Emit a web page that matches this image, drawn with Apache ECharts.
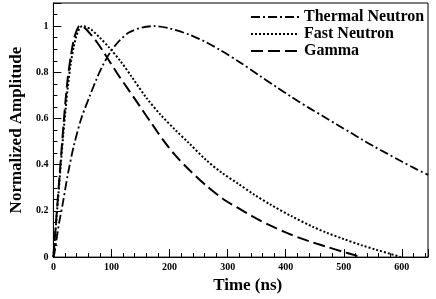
<!DOCTYPE html>
<html>
<head>
<meta charset="utf-8">
<script src="https://cdn.jsdelivr.net/npm/echarts@6/dist/echarts.min.js"></script>
<style>html,body{margin:0;padding:0;background:#fff;}#c{width:436px;height:299px;}</style>
</head>
<body>
<div id="c"></div>
<script>
// Thermal neutron (dash-dot)
const thermalT = [0, 2, 5, 10, 16, 25, 35, 48, 63, 75, 85, 100, 115, 130, 150, 174, 200, 235, 263, 288, 320, 357, 385, 410, 440, 463, 488, 513, 532, 552, 574, 599, 624, 645];
const thermalV = [0, 0.02, 0.07, 0.15, 0.23, 0.36, 0.48, 0.6, 0.7, 0.775, 0.83, 0.895, 0.94, 0.972, 0.992, 1.0, 0.99, 0.962, 0.93, 0.895, 0.845, 0.782, 0.735, 0.693, 0.646, 0.612, 0.574, 0.537, 0.508, 0.479, 0.449, 0.415, 0.382, 0.356];
// Fast neutron (dotted)
const fastT = [0, 3, 6, 9, 13, 17, 21, 25, 30, 35, 40, 45, 50, 55, 65, 80, 96, 115, 135, 160, 185, 210, 232, 263, 290, 318, 346, 374, 410, 446, 470, 500, 530, 557, 580, 598];
const fastV = [0, 0.09, 0.19, 0.28, 0.41, 0.53, 0.64, 0.74, 0.84, 0.91, 0.96, 0.99, 1.0, 0.998, 0.985, 0.95, 0.907, 0.85, 0.78, 0.69, 0.615, 0.55, 0.497, 0.42, 0.365, 0.318, 0.27, 0.227, 0.177, 0.132, 0.106, 0.078, 0.052, 0.031, 0.014, 0];
// Gamma (long dash)
const gammaT = [0, 3, 6, 9, 13, 17, 21, 25, 30, 35, 40, 45, 50, 55, 65, 75, 85, 96, 110, 125, 147, 170, 191, 210, 235, 263, 296, 320, 346, 372, 400, 425, 446, 470, 500, 515, 530];
const gammaV = [0, 0.1, 0.2, 0.3, 0.43, 0.56, 0.68, 0.78, 0.87, 0.94, 0.98, 1.0, 0.998, 0.99, 0.962, 0.93, 0.893, 0.85, 0.795, 0.74, 0.66, 0.575, 0.5, 0.44, 0.375, 0.31, 0.245, 0.21, 0.172, 0.138, 0.107, 0.082, 0.064, 0.045, 0.022, 0.011, 0];
const seriesNames = ['Thermal Neutron', 'Fast Neutron', 'Gamma'];
const xTitle = 'Time (ns)';
const yTitle = 'Normalized Amplitude';

function pairs(t, v) { return t.map((x, i) => [x, v[i]]); }

const font = 'Liberation Serif';
const chart = echarts.init(document.getElementById('c'), null, {renderer: 'canvas'});
chart.setOption({
  animation: false,
  backgroundColor: '#fff',
  grid: {left: 42, right: 8, top: 3, bottom: 31, show: true, borderColor: '#000', borderWidth: 1, backgroundColor: 'transparent'},
  legend: {
    orient: 'vertical', left: 245, top: 4, itemGap: 1, itemWidth: 48, itemHeight: 12,
    itemStyle: {color: 'rgba(0,0,0,0)', borderColor: 'rgba(0,0,0,0)', borderWidth: 0, opacity: 0},
    textStyle: {fontFamily: font, fontWeight: 'bold', fontSize: 16, color: '#000', lineHeight: 15},
    data: seriesNames
  },
  xAxis: {
    type: 'value', min: 0, max: 645, interval: 100,
    name: xTitle, nameLocation: 'middle', nameGap: 16,
    nameTextStyle: {fontFamily: font, fontWeight: 'bold', fontSize: 17, color: '#000', padding: [0, 0, 0, 14]},
    axisLine: {show: true, onZero: false, lineStyle: {color: '#000', width: 1}},
    axisTick: {show: true, inside: true, length: 8, lineStyle: {color: '#000'}},
    minorTick: {show: true, splitNumber: 5, length: 4, lineStyle: {color: '#000'}},
    splitLine: {show: false}, minorSplitLine: {show: false},
    axisLabel: {fontFamily: font, fontWeight: 'bold', fontSize: 10, color: '#000', margin: 5, showMaxLabel: false}
  },
  yAxis: {
    type: 'value', min: 0, max: 1.1, interval: 0.2,
    name: yTitle, nameLocation: 'middle', nameGap: 27,
    nameTextStyle: {fontFamily: font, fontWeight: 'bold', fontSize: 17, color: '#000'},
    axisLine: {show: true, onZero: false, lineStyle: {color: '#000', width: 1}},
    axisTick: {show: true, inside: true, length: 8, lineStyle: {color: '#000'}},
    minorTick: {show: true, splitNumber: 4, length: 4, lineStyle: {color: '#000'}},
    splitLine: {show: false}, minorSplitLine: {show: false},
    axisLabel: {fontFamily: font, fontWeight: 'bold', fontSize: 10, color: '#000', margin: 5, showMaxLabel: false}
  },
  series: [
    {name: seriesNames[0], type: 'line', symbol: 'none', smooth: 0.3, data: pairs(thermalT, thermalV),
     lineStyle: {color: '#000', width: 1.8, type: [9, 3, 2, 3]}, itemStyle: {color: '#000'}},
    {name: seriesNames[1], type: 'line', symbol: 'none', smooth: 0.3, data: pairs(fastT, fastV),
     lineStyle: {color: '#000', width: 2, type: [2, 2]}, itemStyle: {color: '#000'}},
    {name: seriesNames[2], type: 'line', symbol: 'none', smooth: 0.3, data: pairs(gammaT, gammaV),
     lineStyle: {color: '#000', width: 2, type: [12, 5]}, itemStyle: {color: '#000'}}
  ]
});
</script>
</body>
</html>
